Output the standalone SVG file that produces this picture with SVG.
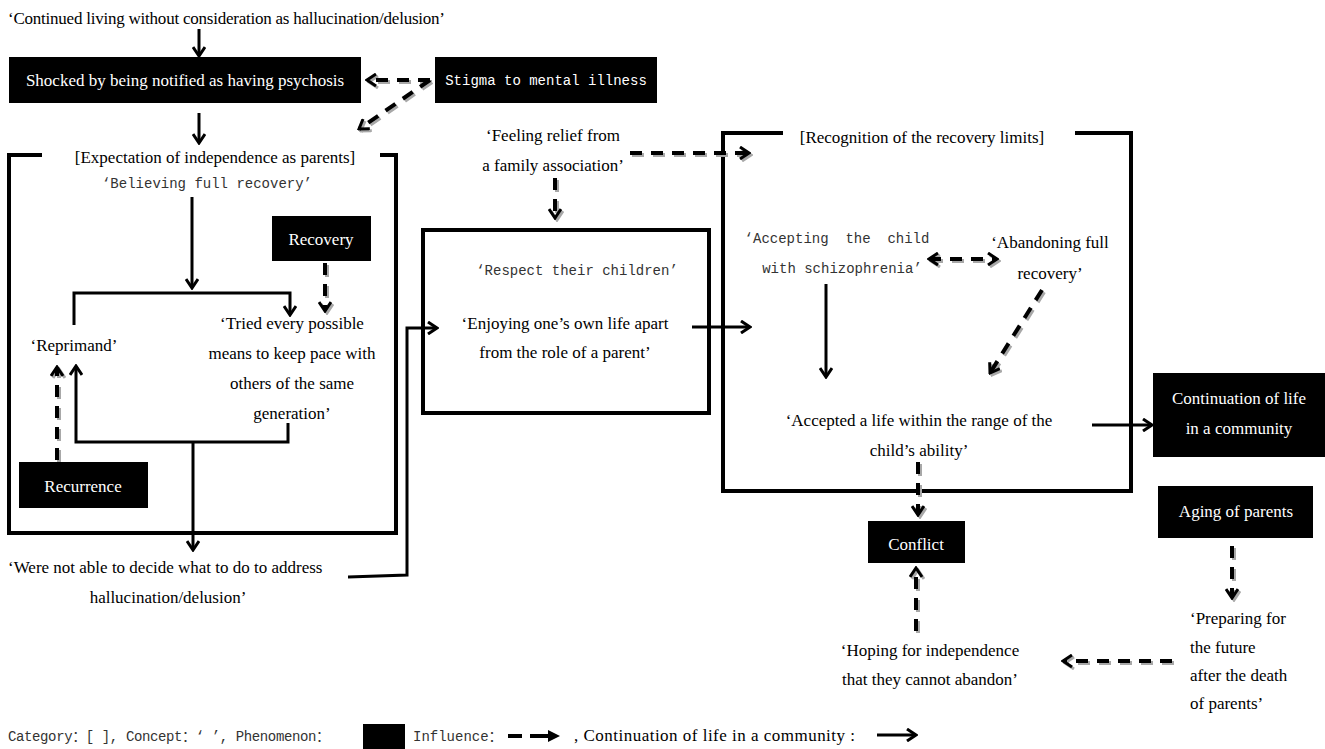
<svg xmlns="http://www.w3.org/2000/svg" width="1325" height="749" viewBox="0 0 1325 749">
<style>
.s{font-family:"Liberation Serif","Times New Roman",serif;font-size:17px;fill:#000}
.w{font-family:"Liberation Serif","Times New Roman",serif;font-size:17px;fill:#fff}
.m{font-family:"Liberation Mono","Noto Sans CJK SC",monospace;font-size:14px;fill:#333}
.mw{font-family:"Liberation Mono","Noto Sans CJK SC",monospace;font-size:14px;fill:#fff}
.c{text-anchor:middle}
.box{fill:#000}
.frame{fill:none;stroke:#000;stroke-width:4}
.sol{fill:none;stroke:#000;stroke-width:3}
.dsh{fill:none;stroke:#000;stroke-width:4;stroke-dasharray:12 9}
.dshg{fill:none;stroke:#a8a8a8;stroke-width:4;stroke-dasharray:12 9}
</style>
<defs>
<marker id="ah" viewBox="0 0 14 14" refX="12" refY="7" markerWidth="14" markerHeight="14" markerUnits="userSpaceOnUse" orient="auto-start-reverse"><path d="M3,1 L12,7 L3,13" fill="none" stroke="#000" stroke-width="3"/></marker>
<marker id="ahg" viewBox="0 0 14 14" refX="12" refY="7" markerWidth="14" markerHeight="14" markerUnits="userSpaceOnUse" orient="auto-start-reverse"><path d="M3,1 L12,7 L3,13" fill="none" stroke="#a8a8a8" stroke-width="3"/></marker>
</defs>
<rect width="1325" height="749" fill="#fff"/>

<g id="frames">
<path class="frame" d="M42,155 H9 V533 H396 V155 H380"/>
<rect class="frame" x="423" y="230" width="286" height="183"/>
<path class="frame" d="M783,133 H723 V491 H1131 V133 H1075"/>
</g>

<g id="connectors">
<g id="shadows" transform="translate(2,2)">
<path class="dshg" d="M430,80 H367" marker-end="url(#ahg)"/>
<path class="dshg" d="M430,80 L359,129" marker-end="url(#ahg)"/>
<path class="dshg" d="M325,263 V311" marker-end="url(#ahg)"/>
<path class="dshg" d="M57,460 V367" marker-end="url(#ahg)"/>
<path class="dshg" d="M630,153 H749" marker-end="url(#ahg)"/>
<path class="dshg" d="M555,178 V218" marker-end="url(#ahg)"/>
<path class="dshg" d="M929,259 H997" marker-start="url(#ahg)" marker-end="url(#ahg)"/>
<path class="dshg" d="M1042,290 L990,373" marker-end="url(#ahg)"/>
<path class="dshg" d="M918,462 V515" marker-end="url(#ahg)"/>
<path class="dshg" d="M916,631 V568" marker-end="url(#ahg)"/>
<path class="dshg" d="M1232,546 V598" marker-end="url(#ahg)"/>
<path class="dshg" d="M1172,661 H1063" marker-end="url(#ahg)"/>
</g>
<path class="sol" d="M199,29 V56" marker-end="url(#ah)"/>
<path class="sol" d="M199,113 V143" marker-end="url(#ah)"/>
<path class="dsh" d="M430,80 H367" marker-end="url(#ah)"/>
<path class="dsh" d="M430,80 L359,129" marker-end="url(#ah)"/>
<path class="sol" d="M192,197 V288" marker-end="url(#ah)"/>
<path class="sol" d="M74,325 V293 H290 V315" marker-end="url(#ah)"/>
<path class="dsh" d="M325,263 V311" marker-end="url(#ah)"/>
<path class="sol" d="M288,423 V442 H76 V366" marker-end="url(#ah)"/>
<path class="sol" d="M193,442 V550" marker-end="url(#ah)"/>
<path class="dsh" d="M57,460 V367" marker-end="url(#ah)"/>
<path class="sol" d="M348,577 L407,575 V328 H437" marker-end="url(#ah)"/>
<path class="dsh" d="M630,153 H749" marker-end="url(#ah)"/>
<path class="dsh" d="M555,178 V218" marker-end="url(#ah)"/>
<path class="sol" d="M692,327 H750" marker-end="url(#ah)"/>
<path class="dsh" d="M929,259 H997" marker-start="url(#ah)" marker-end="url(#ah)"/>
<path class="sol" d="M826,284 V377" marker-end="url(#ah)"/>
<path class="dsh" d="M1042,290 L990,373" marker-end="url(#ah)"/>
<path class="sol" d="M1092,425 H1152" marker-end="url(#ah)"/>
<path class="dsh" d="M918,462 V515" marker-end="url(#ah)"/>
<path class="dsh" d="M916,631 V568" marker-end="url(#ah)"/>
<path class="dsh" d="M1232,546 V598" marker-end="url(#ah)"/>
<path class="dsh" d="M1172,661 H1063" marker-end="url(#ah)"/>
</g>

<g id="n-continued"><text class="s" x="8" y="24" textLength="437">‘Continued living without consideration as hallucination/delusion’</text></g>
<g id="n-shocked"><rect class="box" x="9" y="57" width="352" height="46"/><text class="w c" x="185" y="86">Shocked by being notified as having psychosis</text></g>
<g id="n-stigma"><rect class="box" x="435" y="57" width="222" height="46"/><text class="mw c" x="546" y="85">Stigma to mental illness</text></g>
<g id="n-expectation"><text class="s c" x="215" y="163">[Expectation of independence as parents]</text></g>
<g id="n-believing"><text class="m c" x="207" y="188">‘Believing full recovery’</text></g>
<g id="n-recovery"><rect class="box" x="272" y="216" width="99" height="45"/><text class="w c" x="321" y="245">Recovery</text></g>
<g id="n-tried"><text class="s c" x="292" y="329">‘Tried every possible</text><text class="s c" x="292" y="359">means to keep pace with</text><text class="s c" x="292" y="389">others of the same</text><text class="s c" x="292" y="419">generation’</text></g>
<g id="n-reprimand"><text class="s c" x="74" y="351">‘Reprimand’</text></g>
<g id="n-recurrence"><rect class="box" x="19" y="462" width="129" height="46"/><text class="w c" x="83" y="492">Recurrence</text></g>
<g id="n-werenot"><text class="s" x="8" y="573">‘Were not able to decide what to do to address</text><text class="s c" x="168" y="603">hallucination/delusion’</text></g>
<g id="n-feeling"><text class="s c" x="553" y="141">‘Feeling relief from</text><text class="s c" x="553" y="171">a family association’</text></g>
<g id="n-respect"><text class="m c" x="577" y="275">‘Respect their children’</text></g>
<g id="n-enjoying"><text class="s c" x="565" y="329">‘Enjoying one’s own life apart</text><text class="s c" x="565" y="358">from the role of a parent’</text></g>
<g id="n-recognition"><text class="s c" x="922" y="143">[Recognition of the recovery limits]</text></g>
<g id="n-accepting"><text class="m c" x="837" y="243" xml:space="preserve">‘Accepting  the  child</text><text class="m c" x="842" y="273">with schizophrenia’</text></g>
<g id="n-abandoning"><text class="s c" x="1050" y="248">‘Abandoning full</text><text class="s c" x="1050" y="279">recovery’</text></g>
<g id="n-accepted"><text class="s c" x="919" y="426">‘Accepted a life within the range of the</text><text class="s c" x="919" y="456">child’s ability’</text></g>
<g id="n-continuation"><rect class="box" x="1153" y="373" width="172" height="84"/><text class="w c" x="1239" y="404">Continuation of life</text><text class="w c" x="1239" y="434">in a community</text></g>
<g id="n-aging"><rect class="box" x="1158" y="486" width="155" height="52"/><text class="w c" x="1236" y="517">Aging of parents</text></g>
<g id="n-conflict"><rect class="box" x="868" y="521" width="97" height="42"/><text class="w c" x="916" y="550">Conflict</text></g>
<g id="n-hoping"><text class="s c" x="930" y="656">‘Hoping for independence</text><text class="s c" x="930" y="685">that they cannot abandon’</text></g>
<g id="n-preparing"><text class="s" x="1190" y="624">‘Preparing for</text><text class="s" x="1190" y="653">the future</text><text class="s" x="1190" y="681">after the death</text><text class="s" x="1190" y="709">of parents’</text></g>

<g id="legend">
<text class="m" x="8" y="741" textLength="322">Category：[ ], Concept：‘ ’, Phenomenon：</text>
<rect class="box" x="363" y="724" width="42" height="25"/>
<text class="m" x="413" y="741">Influence：</text>
<path d="M508,736 H522 M530,736 H548" stroke="#000" stroke-width="4"/>
<path d="M548,730 L560,736 L548,742 Z" fill="#000"/>
<text class="s" x="574" y="741" textLength="281">, Continuation of life in a community :</text>
<path class="sol" d="M877,735 H916" marker-end="url(#ah)"/>
</g>
</svg>
